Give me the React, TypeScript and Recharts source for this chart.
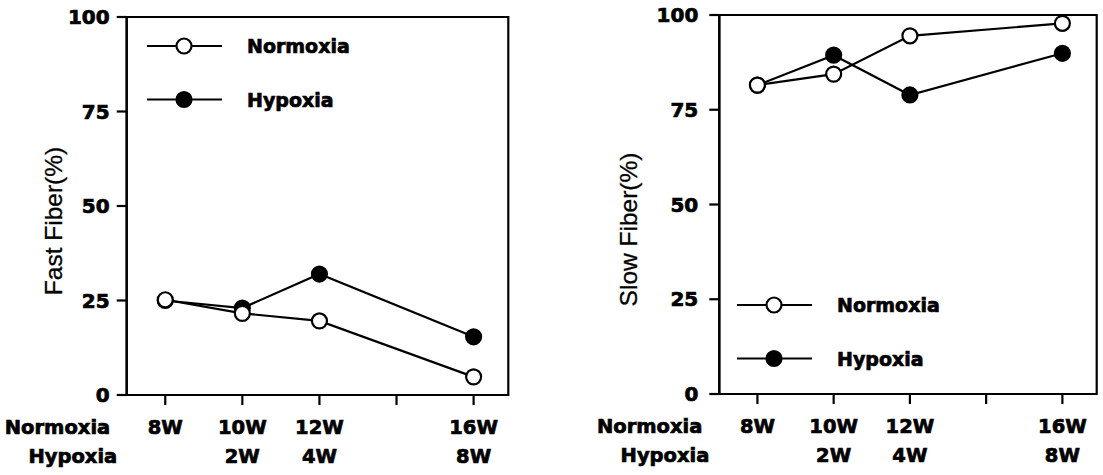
import React from 'react';
import { LineChart, Line, XAxis, YAxis, ReferenceArea, Legend } from 'recharts';

// ---- data ----
const weeks = [8, 10, 12, 16];
const xTicks = [8, 10, 12, 14, 16];
const normoxiaTickLabels = ['8W', '10W', '12W', '', '16W'];
const hypoxiaTickLabels = ['', '2W', '4W', '', '8W'];
const yTicks = [0, 25, 50, 75, 100];
const seriesNames = ['Normoxia', 'Hypoxia'];

const fastNormoxia = [25.2, 21.6, 19.6, 4.8];
const fastHypoxia = [25.0, 23.0, 32.0, 15.4];
const slowNormoxia = [81.5, 84.4, 94.5, 97.8];
const slowHypoxia = [81.5, 89.4, 78.9, 89.9];

const fastTitle = 'Fast Fiber(%)';
const slowTitle = 'Slow Fiber(%)';

const buildRows = (n: number[], h: number[]) =>
  weeks.map((w, i) => ({ week: w, normoxia: n[i], hypoxia: h[i] }));

const fastData = buildRows(fastNormoxia, fastHypoxia);
const slowData = buildRows(slowNormoxia, slowHypoxia);

// ---- styles ----
const BOLD_FONT = '"DejaVu Sans", sans-serif';
const LABEL_FONT = '"Liberation Sans", Arial, sans-serif';
const TICK = 10;
const HEAVY = { stroke: '#000', strokeWidth: 0.7 };

const makeXTick = () => (props: any) => {
  const { x, y, payload } = props;
  const i = xTicks.indexOf(payload.value);
  const axisY = y - TICK;
  const common = {
    fontFamily: BOLD_FONT,
    fontWeight: 'bold' as const,
    fontSize: 19.5,
    fill: '#000',
    ...HEAVY,
  };
  return (
    <g>
      <text x={x} y={axisY + 38.5} textAnchor="middle" {...common}>
        {normoxiaTickLabels[i]}
      </text>
      <text x={x} y={axisY + 67.5} textAnchor="middle" {...common}>
        {hypoxiaTickLabels[i]}
      </text>
      {i === 0 && (
        <>
          <text x={x - 55} y={axisY + 38.5} textAnchor="end" {...common}>
            {seriesNames[0]}
          </text>
          <text x={x - 48} y={axisY + 67.5} textAnchor="end" {...common}>
            {seriesNames[1]}
          </text>
        </>
      )}
    </g>
  );
};

const makeYLabel = (text: string, dx: number, dy: number) => (props: any) => {
  const vb = props.viewBox || { x: 0, y: 0, width: 0, height: 0 };
  const cx = vb.x + vb.width - dx;
  const cy = vb.y + vb.height / 2 + dy;
  return (
    <text
      x={cx}
      y={cy}
      transform={`rotate(-90 ${cx} ${cy})`}
      textAnchor="middle"
      dominantBaseline="central"
      fontFamily={LABEL_FONT}
      fontSize={24.5}
      fill="#000"
      stroke="#000"
      strokeWidth={0.3}
    >
      {text}
    </text>
  );
};

const LegendBox = () => (
  <svg width={240} height={90} style={{ display: 'block', overflow: 'visible' }}>
    {seriesNames.map((name, i) => {
      const cy = 16 + i * 53.5;
      return (
        <g key={name}>
          <line x1={0} x2={75} y1={cy} y2={cy} stroke="#000" strokeWidth={2.2} />
          <circle cx={37} cy={cy} r={7.5} fill={i === 0 ? '#fff' : '#000'} stroke="#000" strokeWidth={2.2} />
          <text
            x={100}
            y={cy + 7}
            fontFamily={BOLD_FONT}
            fontWeight="bold"
            fontSize={19}
            fill="#000"
            {...HEAVY}
          >
            {name}
          </text>
        </g>
      );
    })}
  </svg>
);

type PanelProps = {
  data: any[];
  title: string;
  left: number;
  width: number;
  margin: { top: number; right: number; bottom: number; left: number };
  yAxisWidth: number;
  xAxisHeight: number;
  yTickMargin: number;
  labelDx: number;
  labelDy: number;
  legendLeft: number;
  legendTop: number;
};

const Panel = (p: PanelProps) => (
  <div style={{ position: 'absolute', left: p.left, top: 0 }}>
    <LineChart width={p.width} height={475} data={p.data} margin={p.margin}>
      <XAxis
        dataKey="week"
        type="number"
        domain={[7, 16.9]}
        allowDataOverflow
        ticks={xTicks}
        interval={0}
        tickSize={TICK}
        tickMargin={0}
        height={p.xAxisHeight}
        stroke="#000"
        strokeWidth={2.2}
        tickLine={{ stroke: '#000', strokeWidth: 2.2 }}
        tick={makeXTick()}
      />
      <YAxis
        type="number"
        domain={[0, 100]}
        ticks={yTicks}
        interval={0}
        width={p.yAxisWidth}
        tickSize={TICK}
        tickMargin={p.yTickMargin}
        stroke="#000"
        strokeWidth={2.2}
        tickLine={{ stroke: '#000', strokeWidth: 2.2 }}
        tick={{ fill: '#000', fontSize: 20, fontWeight: 'bold', fontFamily: BOLD_FONT, ...HEAVY }}
        label={makeYLabel(p.title, p.labelDx, p.labelDy)}
      />
      <ReferenceArea
        x1={7}
        x2={16.9}
        y1={0}
        y2={100}
        fill="none"
        fillOpacity={0}
        stroke="#000"
        strokeWidth={2.2}
        ifOverflow="visible"
      />
      <Legend
        layout="horizontal"
        verticalAlign="middle"
        align="center"
        wrapperStyle={{ left: p.legendLeft, top: p.legendTop, width: 240, height: 90 }}
        content={() => <LegendBox />}
      />
      <Line
        name={seriesNames[1]}
        dataKey="hypoxia"
        type="linear"
        stroke="#000"
        strokeWidth={2.2}
        isAnimationActive={false}
        dot={{ r: 7.5, fill: '#000', stroke: '#000', strokeWidth: 2.2 }}
        activeDot={false}
      />
      <Line
        name={seriesNames[0]}
        dataKey="normoxia"
        type="linear"
        stroke="#000"
        strokeWidth={2.2}
        isAnimationActive={false}
        dot={{ r: 7.5, fill: '#fff', stroke: '#000', strokeWidth: 2.2 }}
        activeDot={false}
      />
    </LineChart>
  </div>
);

export default function App() {
  return (
    <div
      style={{
        position: 'absolute',
        left: 0,
        top: 0,
        width: 1103,
        height: 475,
        background: '#fff',
        overflow: 'hidden',
      }}
    >
      <Panel
        data={fastData}
        title={fastTitle}
        left={0}
        width={520}
        margin={{ top: 17, right: 11.7, bottom: 0, left: 0 }}
        yAxisWidth={126.7}
        xAxisHeight={80}
        yTickMargin={7}
        labelDx={73.7}
        labelDy={15}
        legendLeft={146.7}
        legendTop={30}
      />
      <Panel
        data={slowData}
        title={slowTitle}
        left={583}
        width={520}
        margin={{ top: 15, right: 6.3, bottom: 0, left: 0 }}
        yAxisWidth={136.3}
        xAxisHeight={81}
        yTickMargin={11}
        labelDx={91}
        labelDy={25}
        legendLeft={153.7}
        legendTop={289}
      />
    </div>
  );
}
